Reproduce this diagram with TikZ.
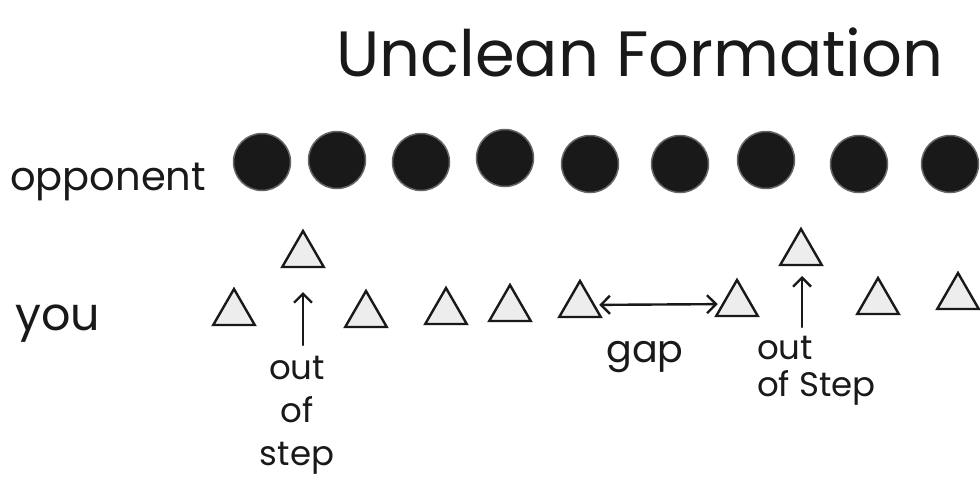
\documentclass[tikz,border=0pt]{standalone}
\usepackage{fontspec}
\setmainfont{Poppins}
\usetikzlibrary{shapes.geometric,arrows.meta}
\begin{document}
\begin{tikzpicture}[x=1pt,y=-1pt,
  dot/.style={circle,fill=black!90,draw=black!60,line width=1.5pt,minimum size=57pt,inner sep=0pt},
  tri/.style={regular polygon,regular polygon sides=3,draw=black!90,line width=2.4pt,fill=black!7,minimum size=48pt,inner sep=0pt},
  pen/.style={draw=black!90,line width=2.4pt,line cap=round},
  lbl/.style={inner sep=0pt,text=black!90}]
\useasboundingbox (0,0) rectangle (980,485);
\fill[white] (0,0) rectangle (980,485);
% title
\node[lbl,anchor=base,font=\fontsize{64}{66}\selectfont] (title) at (640,76) {Unclean Formation};
% opponent row
\node[lbl,anchor=base west,font=\fontsize{40}{44}\selectfont] (opp) at (10,190) {opponent};
\node[dot] (o1) at (262,162) {};
\node[dot] (o2) at (337,160) {};
\node[dot] (o3) at (421,162) {};
\node[dot] (o4) at (505,158) {};
\node[dot] (o5) at (590,164) {};
\node[dot] (o6) at (680,164) {};
\node[dot] (o7) at (766,160) {};
\node[dot] (o8) at (859,164) {};
\node[dot] (o9) at (950,164) {};
% you row
\node[lbl,anchor=base west,font=\fontsize{46}{48}\selectfont] (you) at (15,330) {you};
\node[tri] (t1) at (234,313) {};
\node[tri] (u1) at (303,255) {};
\node[tri] (t2) at (366,315) {};
\node[tri] (t3) at (446,312) {};
\node[tri] (t4) at (510,309) {};
\node[tri] (t5) at (580,305) {};
\node[tri] (t6) at (737,304) {};
\node[tri] (u2) at (801,253) {};
\node[tri] (t7) at (878,302) {};
\node[tri] (t8) at (958,297) {};
% out of step arrows
\coordinate (a1s) at (303,345);
\coordinate (a1e) at (303,292);
\draw[pen,-{Straight Barb[length=9pt,width=18pt]}] (a1s) -- (a1e);
\coordinate (a2s) at (802,327);
\coordinate (a2e) at (802,276);
\draw[pen,-{Straight Barb[length=9pt,width=18pt]}] (a2s) -- (a2e);
% gap arrow
\draw[pen,{Straight Barb[length=9pt,width=18pt]}-{Straight Barb[length=9pt,width=18pt]},shorten <=4pt,shorten >=4pt] (t5) -- (t6);
% labels
\node[lbl,anchor=north,align=center,font=\fontsize{34}{43}\selectfont] (oos1) at (297,356) {out\\of\\step};
\node[lbl,anchor=base,font=\fontsize{38}{40}\selectfont] (gap) at (645,362) {gap};
\node[lbl,anchor=north west,align=left,font=\fontsize{34}{37}\selectfont] (oos2) at (757,336) {out\\of Step};
\end{tikzpicture}
\end{document}
